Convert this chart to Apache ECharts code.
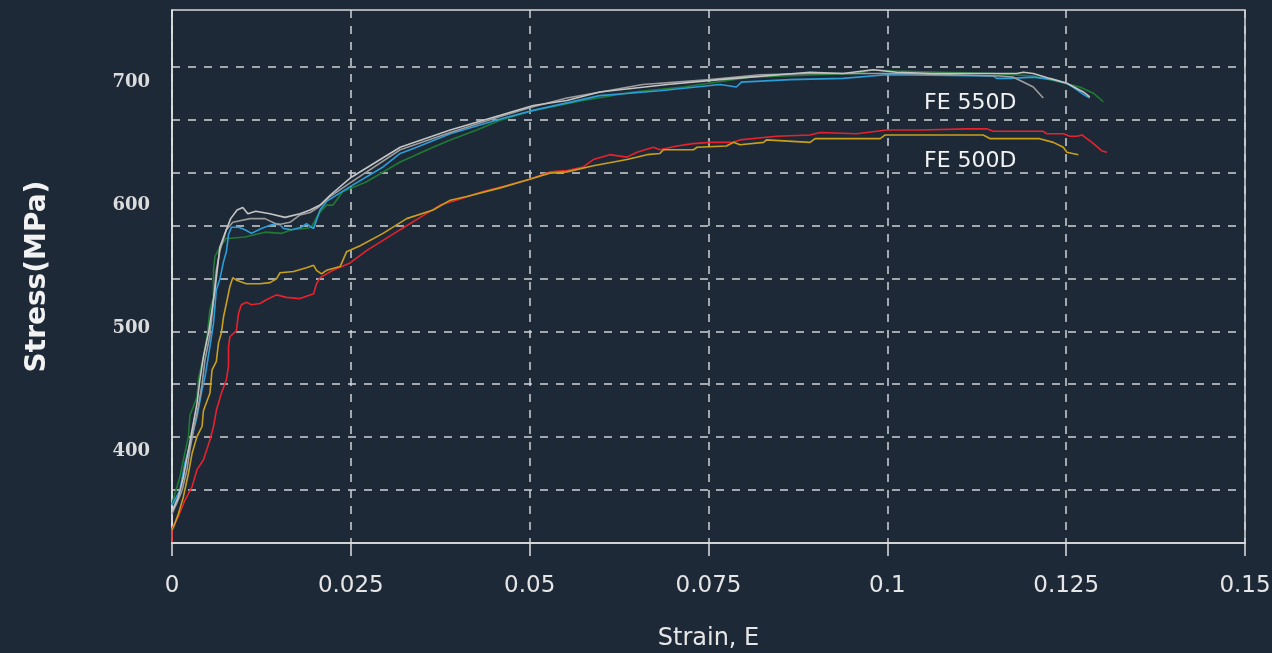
<!DOCTYPE html>
<html>
<head>
<meta charset="utf-8">
<script src="https://cdn.jsdelivr.net/npm/echarts@6/dist/echarts.min.js"></script>
<style>
  html, body { margin: 0; padding: 0; background: #1e2938; }
  #chart { width: 1272px; height: 653px; }
</style>
</head>
<body>
<div id="chart"></div>
<script>
// strain / stress readings, [strain, MPa]
const red500 = [[0,326],[0,337],[0.0009,347],[0.0018,360],[0.0028,371],[0.0035,385],[0.0044,393],[0.0053,409],[0.0058,420],[0.0062,433],[0.0069,447],[0.0076,458],[0.0079,469],[0.0079,485],[0.0081,493],[0.0090,498],[0.0093,512],[0.0097,519],[0.0104,521],[0.0111,519],[0.0123,520],[0.0132,523],[0.0146,527],[0.0160,525],[0.0179,524],[0.0198,528],[0.0202,536],[0.0207,541],[0.0225,547],[0.0249,553],[0.0272,563],[0.0319,580],[0.0347,590],[0.0375,600],[0.0403,605],[0.0435,611],[0.0468,616],[0.0500,621],[0.0528,627],[0.0552,628],[0.0575,631],[0.0589,637],[0.0612,641],[0.0636,639],[0.0650,643],[0.0673,647],[0.0682,645],[0.0706,648],[0.0728,650],[0.0752,651],[0.0784,651],[0.0794,653],[0.0845,656],[0.0892,657],[0.0906,659],[0.0957,658],[0.0999,661],[0.1046,661],[0.1111,662],[0.1139,662],[0.1148,660],[0.1218,660],[0.1223,658],[0.1246,658],[0.1255,656],[0.1265,656],[0.1272,657],[0.1286,651],[0.1300,644],[0.1307,643]];
const yellow500 = [[0,336],[0.0002,338],[0.0009,349],[0.0016,363],[0.0023,382],[0.0028,398],[0.0035,412],[0.0042,420],[0.0044,433],[0.0053,447],[0.0056,466],[0.0062,473],[0.0065,488],[0.0069,496],[0.0072,509],[0.0076,520],[0.0081,534],[0.0085,541],[0.0090,539],[0.0104,536],[0.0123,536],[0.0137,537],[0.0146,540],[0.0151,545],[0.0170,546],[0.0188,549],[0.0198,551],[0.0202,547],[0.0209,544],[0.0216,547],[0.0235,550],[0.0244,562],[0.0263,567],[0.0295,577],[0.0328,589],[0.0365,596],[0.0389,604],[0.0412,607],[0.0459,614],[0.0500,621],[0.0528,626],[0.0552,627],[0.0589,632],[0.0636,637],[0.0664,641],[0.0682,642],[0.0687,645],[0.0729,645],[0.0734,647],[0.0775,648],[0.0785,651],[0.0794,649],[0.0827,651],[0.0831,653],[0.0892,651],[0.0899,654],[0.0990,654],[0.0997,657],[0.1134,657],[0.1144,654],[0.1213,654],[0.1232,651],[0.1246,647],[0.1251,643],[0.1267,641]];
const green550 = [[0,357],[0.0011,379],[0.0016,393],[0.0023,412],[0.0025,429],[0.0035,444],[0.0037,459],[0.0044,477],[0.0049,493],[0.0053,515],[0.0058,525],[0.0058,547],[0.0060,558],[0.0067,566],[0.0076,573],[0.0083,573],[0.0102,574],[0.0130,578],[0.0153,577],[0.0167,580],[0.0186,581],[0.0195,582],[0.0205,593],[0.0216,600],[0.0225,600],[0.0239,611],[0.0272,619],[0.0319,635],[0.0365,647],[0.0389,653],[0.0426,661],[0.0459,669],[0.0505,677],[0.0575,685],[0.0645,692],[0.0715,696],[0.0808,704],[0.0901,706],[0.0957,707],[0.0980,710],[0.1008,709],[0.1148,707],[0.1204,705],[0.1241,700],[0.1269,696],[0.1288,691],[0.1302,684]];
const blue550 = [[0,356],[0.0011,368],[0.0018,390],[0.0028,412],[0.0035,428],[0.0042,450],[0.0046,460],[0.0053,485],[0.0058,504],[0.0062,531],[0.0067,540],[0.0072,554],[0.0076,562],[0.0079,576],[0.0083,582],[0.0093,582],[0.0102,580],[0.0111,577],[0.0125,581],[0.0139,584],[0.0149,585],[0.0156,581],[0.0167,580],[0.0181,582],[0.0188,585],[0.0195,582],[0.0198,581],[0.0207,596],[0.0216,603],[0.0249,615],[0.0295,631],[0.0319,642],[0.0342,647],[0.0389,658],[0.0459,670],[0.0505,677],[0.0598,689],[0.0682,693],[0.0766,698],[0.0789,696],[0.0796,700],[0.0864,702],[0.0938,703],[0.0999,706],[0.1148,705],[0.1153,703],[0.1171,703],[0.1204,704],[0.1232,702],[0.1251,699],[0.1262,695],[0.1274,690],[0.1283,687]];
const grayA550 = [[0,351],[0.0009,363],[0.0016,379],[0.0023,401],[0.0028,417],[0.0035,439],[0.0039,458],[0.0044,477],[0.0051,496],[0.0056,515],[0.0060,531],[0.0067,566],[0.0074,577],[0.0082,589],[0.0091,596],[0.0099,598],[0.0106,593],[0.0117,595],[0.0137,593],[0.0158,590],[0.0179,593],[0.0193,596],[0.0207,600],[0.0221,608],[0.0249,622],[0.0319,647],[0.0389,661],[0.0459,673],[0.0505,681],[0.0552,685],[0.0598,692],[0.0692,698],[0.0766,702],[0.0808,704],[0.0892,708],[0.0938,707],[0.0980,710],[0.1013,708],[0.1064,707],[0.1181,707],[0.1190,708],[0.1204,707],[0.1227,703],[0.1251,699],[0.1274,692],[0.1283,688]];
const grayB550 = [[0,349],[0.0007,358],[0.0014,368],[0.0021,385],[0.0025,401],[0.0030,417],[0.0037,437],[0.0042,454],[0.0046,474],[0.0053,494],[0.0058,523],[0.0062,547],[0.0067,563],[0.0076,580],[0.0085,586],[0.0109,589],[0.0130,589],[0.0148,584],[0.0165,586],[0.0179,592],[0.0193,594],[0.0204,598],[0.0221,607],[0.0249,618],[0.0319,645],[0.0389,659],[0.0459,672],[0.0505,680],[0.0552,687],[0.0658,698],[0.0752,702],[0.0822,706],[0.0892,707],[0.1018,707],[0.1158,705],[0.1176,704],[0.1190,700],[0.1204,696],[0.1218,687]];

const yTickLabels = [400, 500, 600, 700];
const gridBands = [1, 2, 3, 4, 5, 6, 7, 8, 9];
const gradeLabels = [
  { name: 'FE 550D', coord: [0.1116, 683] },
  { name: 'FE 500D', coord: [0.1116, 636] }
];

const chart = echarts.init(document.getElementById('chart'));

function line(data, color, z) {
  return {
    type: 'line',
    data: data,
    showSymbol: false,
    symbol: 'none',
    z: z,
    lineStyle: { color: color, width: 1.6 },
    animation: false
  };
}

const gridDash = { color: '#cfd2d6', width: 1.5, type: [8, 8] };

const series = [
  line(red500, '#e8222c', 2),
  line(yellow500, '#c9a01a', 3),
  line(green550, '#1f7a34', 4),
  line(blue550, '#2a9ed8', 5),
  line(grayB550, '#9c9c9c', 6),
  line(grayA550, '#c4c4c4', 7)
];
// grade names sit on the plot as text
series[0].markPoint = {
  symbol: 'rect',
  symbolSize: 0,
  silent: true,
  label: { show: true, position: 'inside', color: '#f2f2f2', fontSize: 22, fontFamily: 'DejaVu Sans', formatter: p => p.name },
  data: gradeLabels.map(g => ({ name: g.name, coord: g.coord }))
};

chart.setOption({
  backgroundColor: '#1e2938',
  animation: false,
  grid: {
    left: 172, right: 27, top: 10, bottom: 110,
    outerBoundsMode: 'none',
    show: true, borderColor: '#d8d8d8', borderWidth: 1.5
  },
  xAxis: {
    type: 'value',
    min: 0, max: 0.15, interval: 0.025,
    name: 'Strain, E',
    nameLocation: 'middle',
    nameGap: 84,
    nameTextStyle: { color: '#e6e6e6', fontSize: 24, fontFamily: 'DejaVu Sans' },
    axisLine: { show: true, lineStyle: { color: '#e0e0e0', width: 1.5 } },
    axisTick: { show: true, length: 13, lineStyle: { color: '#e0e0e0', width: 1.5 } },
    axisLabel: {
      color: '#e6e6e6', fontSize: 23, fontFamily: 'DejaVu Sans', margin: 32,
      formatter: v => String(+v.toFixed(3))
    },
    splitLine: { show: true, lineStyle: gridDash }
  },
  yAxis: [{
    type: 'value',
    min: 325.3, max: 758.6,
    name: 'Stress(MPa)',
    nameLocation: 'middle',
    nameGap: 120,
    nameTextStyle: { color: '#f2f2f2', fontSize: 28, fontWeight: 'bold', fontFamily: 'DejaVu Sans' },
    axisLine: { show: true, lineStyle: { color: '#e0e0e0', width: 1.5 } },
    axisTick: { show: false },
    axisLabel: {
      customValues: yTickLabels,
      color: '#dcdcdc', fontSize: 18, fontWeight: 'bold', fontFamily: 'DejaVu Serif', margin: 22
    },
    splitLine: { show: false }
  }, {
    // ten even bands for the dashed grid
    type: 'value',
    min: 0, max: 10.07,
    position: 'right',
    axisLine: { show: false },
    axisTick: { show: false, customValues: gridBands },
    axisLabel: { show: false },
    splitLine: { show: true, lineStyle: gridDash }
  }],
  series: series
});
</script>
</body>
</html>
